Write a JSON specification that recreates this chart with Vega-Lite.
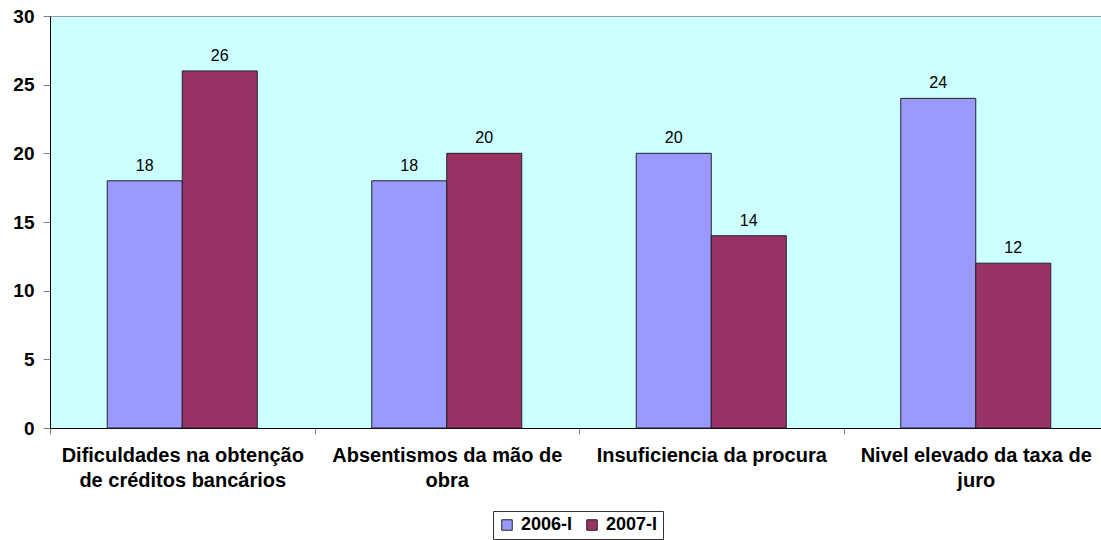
{
  "$schema": "https://vega.github.io/schema/vega-lite/v6.json",
  "width": 1051,
  "height": 412,
  "autosize": {"type": "none"},
  "padding": {"left": 50, "top": 16, "right": 0, "bottom": 112},
  "background": "white",
  "config": {
    "font": "Liberation Sans",
    "view": {"fill": "#CCFFFF", "stroke": "#999999", "strokeWidth": 1}
  },
  "data": {
    "values": [
      {"cat": "Dificuldades na obtenção de créditos bancários", "period": "2006-I", "value": 18},
      {"cat": "Dificuldades na obtenção de créditos bancários", "period": "2007-I", "value": 26},
      {"cat": "Absentismos da mão de obra", "period": "2006-I", "value": 18},
      {"cat": "Absentismos da mão de obra", "period": "2007-I", "value": 20},
      {"cat": "Insuficiencia da procura", "period": "2006-I", "value": 20},
      {"cat": "Insuficiencia da procura", "period": "2007-I", "value": 14},
      {"cat": "Nivel elevado da taxa de juro", "period": "2006-I", "value": 24},
      {"cat": "Nivel elevado da taxa de juro", "period": "2007-I", "value": 12}
    ]
  },
  "encoding": {
    "x": {
      "field": "cat",
      "type": "nominal",
      "sort": null,
      "scale": {"paddingInner": 0, "paddingOuter": 0, "range": [0, 1058]},
      "axis": {
        "title": null,
        "labelAngle": 0,
        "labelFont": "Liberation Sans",
        "labelFontWeight": "bold",
        "labelFontSize": 20,
        "labelColor": "black",
        "labelLineHeight": 25,
        "labelPadding": 11,
        "labelLimit": 0,
        "tickBand": "extent",
        "tickSize": 6,
        "tickColor": "#808080",
        "domainColor": "black",
        "labelExpr": "datum.value == 'Dificuldades na obtenção de créditos bancários' ? ['Dificuldades na obtenção', 'de créditos bancários'] : datum.value == 'Absentismos da mão de obra' ? ['Absentismos da mão de', 'obra'] : datum.value == 'Nivel elevado da taxa de juro' ? ['Nivel elevado da taxa de', 'juro'] : datum.value"
      }
    },
    "xOffset": {
      "field": "period",
      "type": "nominal",
      "scale": {"paddingInner": 0, "paddingOuter": 0.763}
    },
    "y": {
      "field": "value",
      "type": "quantitative",
      "scale": {"domain": [0, 30]},
      "axis": {
        "title": null,
        "values": [0, 5, 10, 15, 20, 25, 30],
        "grid": false,
        "labelFont": "Liberation Sans",
        "labelFontWeight": "bold",
        "labelFontSize": 19,
        "labelColor": "black",
        "labelPadding": 9,
        "tickSize": 7,
        "tickColor": "#808080",
        "domainColor": "black"
      }
    }
  },
  "layer": [
    {
      "mark": {"type": "bar", "stroke": "#222222", "strokeWidth": 1},
      "encoding": {
        "color": {
          "field": "period",
          "type": "nominal",
          "scale": {"domain": ["2006-I", "2007-I"], "range": ["#9999FF", "#993366"]},
          "legend": {
            "title": null,
            "orient": "none",
            "legendX": 443,
            "legendY": 495,
            "direction": "horizontal",
            "labelFont": "Liberation Sans",
            "labelFontWeight": "bold",
            "labelFontSize": 18,
            "labelColor": "black",
            "symbolType": "square",
            "symbolSize": 110,
            "symbolStrokeColor": "#222222",
            "symbolStrokeWidth": 1,
            "strokeColor": "#333333",
            "padding": 5,
            "columnPadding": 10,
            "labelOffset": 5
          }
        }
      }
    },
    {
      "mark": {"type": "text", "dy": -15, "fontSize": 16, "fontWeight": "normal", "font": "Liberation Sans", "color": "black"},
      "encoding": {"text": {"field": "value", "type": "quantitative"}}
    }
  ]
}
